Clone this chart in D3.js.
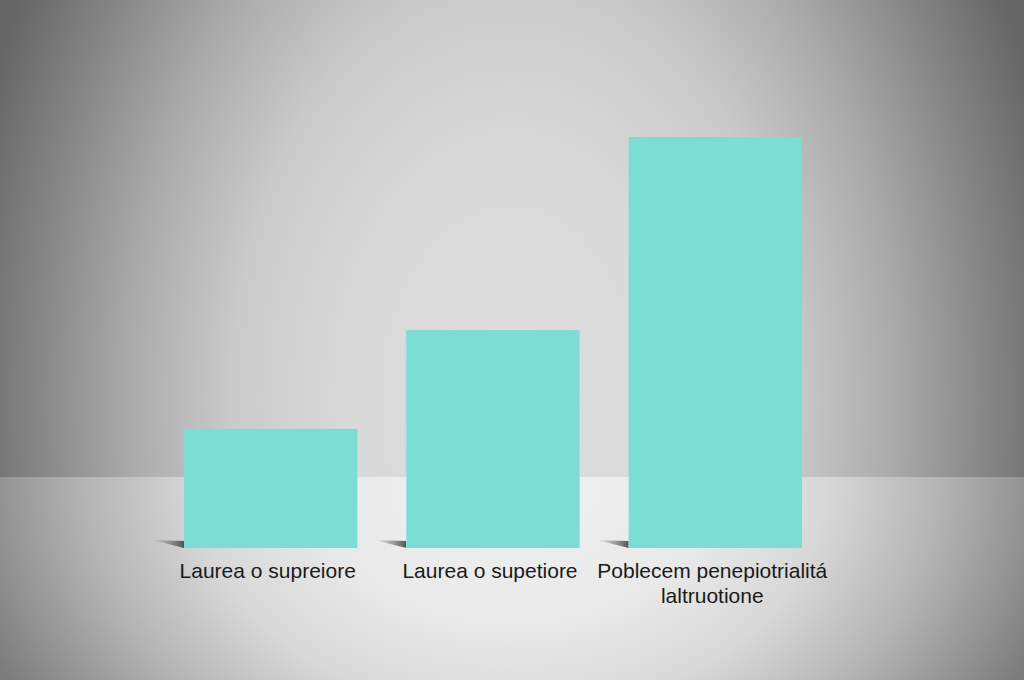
<!DOCTYPE html>
<html>
<head>
<meta charset="utf-8">
<script src="https://cdn.jsdelivr.net/npm/d3@7"></script>
<style>
  html, body { margin: 0; padding: 0; background: #cfcfcf; }
  svg { display: block; }
</style>
</head>
<body>
<div id="chart"></div>
<script>
// chart values
const categories = ['cat1', 'cat2', 'cat3'];
const values = [29, 53, 100];
const labelLines = [
  ['Laurea o supreiore'],
  ['Laurea o supetiore'],
  ['Poblecem penepiotrialitá', 'laltruotione']
];

const width = 1024, height = 680;
const horizonY = 477;
const baseY = 548;

const svg = d3.select('#chart').append('svg')
  .attr('width', width).attr('height', height);

const defs = svg.append('defs');

// wall: light centre, dark side edges
const wallGrad = defs.append('radialGradient').attr('id', 'wall')
  .attr('gradientUnits', 'userSpaceOnUse')
  .attr('cx', 512).attr('cy', 400).attr('r', 560)
  .attr('gradientTransform', 'translate(512,400) scale(1,1.5) translate(-512,-400)');
[[0, '#dedede'], [0.3, '#d9d9d9'], [0.5, '#cacaca'], [0.68, '#ababab'], [0.84, '#888'], [1, '#666']]
  .forEach(([o, c]) => wallGrad.append('stop').attr('offset', o).attr('stop-color', c));

// floor
const floorGrad = defs.append('radialGradient').attr('id', 'floor')
  .attr('gradientUnits', 'userSpaceOnUse')
  .attr('cx', 512).attr('cy', 480).attr('r', 570)
  .attr('gradientTransform', 'translate(512,480) scale(1,0.75) translate(-512,-480)');
[[0, '#f1f1f1'], [0.35, '#e9e9e9'], [0.55, '#d8d8d8'], [0.75, '#b4b4b4'], [1, '#7c7c7c']]
  .forEach(([o, c]) => floorGrad.append('stop').attr('offset', o).attr('stop-color', c));

const shadowGrad = defs.append('linearGradient').attr('id', 'shadow')
  .attr('x1', 0).attr('x2', 1).attr('y1', 0).attr('y2', 0);
shadowGrad.append('stop').attr('offset', 0).attr('stop-color', '#666').attr('stop-opacity', 0);
shadowGrad.append('stop').attr('offset', 1).attr('stop-color', '#3a3a3a').attr('stop-opacity', 0.85);

svg.append('rect').attr('width', width).attr('height', horizonY).attr('fill', 'url(#wall)');
svg.append('rect').attr('y', horizonY).attr('width', width).attr('height', height - horizonY).attr('fill', 'url(#floor)');

const x = d3.scaleBand()
  .domain(categories)
  .range([184, 802])
  .paddingInner(0.22)
  .paddingOuter(0);

const y = d3.scaleLinear()
  .domain([0, 100])
  .range([baseY, 137]);

// bar shadows
svg.append('g').selectAll('path')
  .data(categories)
  .join('path')
  .attr('d', d => {
    const x0 = x(d);
    return `M${x0 - 32},${baseY - 8} L${x0},${baseY - 7} L${x0},${baseY} Z`;
  })
  .attr('fill', 'url(#shadow)');

svg.append('g').selectAll('rect')
  .data(categories)
  .join('rect')
  .attr('x', d => x(d))
  .attr('y', (d, i) => y(values[i]))
  .attr('width', x.bandwidth())
  .attr('height', (d, i) => y(0) - y(values[i]))
  .attr('fill', '#7cddd4');

const labels = svg.append('g')
  .attr('font-family', 'Liberation Sans, Arial, sans-serif')
  .attr('font-size', 21)
  .attr('fill', '#1a1a1a')
  .attr('text-anchor', 'middle');

categories.forEach((c, i) => {
  labelLines[i].forEach((line, j) => {
    labels.append('text')
      .attr('x', x(c) + x.bandwidth() / 2 - 3)
      .attr('y', 578 + j * 25)
      .text(line);
  });
});
</script>
</body>
</html>
